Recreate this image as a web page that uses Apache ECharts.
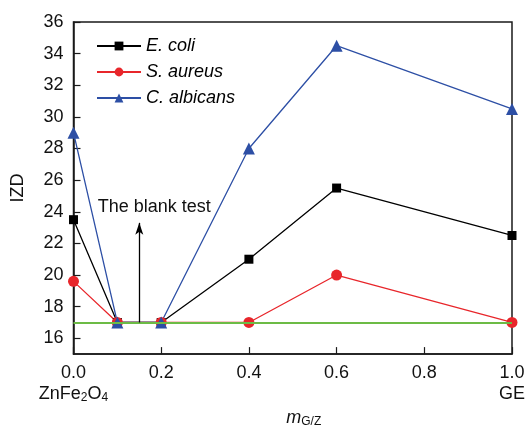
<!DOCTYPE html>
<html>
<head>
<meta charset="utf-8">
<style>
  html, body { margin: 0; padding: 0; background: #fff; }
  #main { width: 528px; height: 433px; }
</style>
</head>
<body>
<div id="main"></div>
<script src="https://cdn.jsdelivr.net/npm/echarts@6/dist/echarts.min.js"></script>
<script>
// x: mass ratio G/Z, y: inhibition zone diameter
var ratios = [0, 0.1, 0.2, 0.4, 0.6, 1.0]
var eColi = [23.5, 17, 17, 21, 25.5, 22.5]
var sAureus = [19.6, 17, 17, 17, 20, 17]
var cAlbicans = [29, 17, 17, 28, 34.5, 30.5]
var seriesNames = ['E. coli', 'S. aureus', 'C. albicans']
var yTicks = [16, 18, 20, 22, 24, 26, 28, 30, 32, 34, 36]
var xTicks = [0, 0.2, 0.4, 0.6, 0.8, 1.0]
var blankLevel = 17
var blankArrowX = 0.15
var blankArrowTop = 23.3
var blankText = 'The blank test'

var font = 'Liberation Sans, Arial, sans-serif'

function pairs(ys) {
  return ratios.map(function (x, i) { return [x, ys[i]] })
}

var chart = echarts.init(document.getElementById('main'))

var option = {
  backgroundColor: '#fff',
  animation: false,
  textStyle: { fontFamily: font },
  grid: {
    left: 73.5, right: 15, top: 22, bottom: 50,
    show: true, borderColor: '#1a1a1a', borderWidth: 1.5
  },
  legend: {
    data: seriesNames,
    orient: 'vertical',
    left: 91,
    top: 32,
    itemWidth: 44,
    itemHeight: 11,
    itemGap: 8,
    textStyle: { fontFamily: font, fontSize: 18, fontStyle: 'italic', color: '#000', lineHeight: 18 }
  },
  xAxis: {
    type: 'value',
    min: 0,
    max: 1,
    interval: 0.2,
    axisLine: { lineStyle: { color: '#1a1a1a', width: 1.5 } },
    axisTick: { inside: true, length: 7, lineStyle: { color: '#1a1a1a', width: 1.2 } },
    splitLine: { show: false },
    axisLabel: {
      margin: 8,
      color: '#111',
      fontSize: 18,
      fontFamily: font,
      showMinLabel: true,
      showMaxLabel: true,
      lineHeight: 21,
      formatter: function (v) {
        var s = v.toFixed(1)
        if (v === xTicks[0]) return s + '\n{c|ZnFe}{sub|2}{c|O}{sub|4}'
        if (v === xTicks[xTicks.length - 1]) return s + '\n{c|GE}'
        return s
      },
      rich: {
        c: { fontSize: 18, fontFamily: font, color: '#111', lineHeight: 21 },
        sub: { fontSize: 12, fontFamily: font, color: '#111', lineHeight: 21, verticalAlign: 'bottom', padding: [8, 0, 0, 0] }
      }
    },
    name: '{m|m}{sub|G/Z}',
    nameLocation: 'middle',
    nameGap: 33,
    nameTextStyle: {
      padding: [0, 0, 0, 22],
      rich: {
        m: { fontSize: 18, fontStyle: 'italic', fontFamily: font, color: '#111' },
        sub: { fontSize: 12, fontFamily: font, color: '#111', verticalAlign: 'bottom', padding: [8, 0, 0, 0] }
      }
    }
  },
  yAxis: {
    type: 'value',
    min: 15,
    max: 36,
    axisLine: { show: true, lineStyle: { color: '#1a1a1a', width: 1.5 } },
    axisTick: { inside: true, length: 7, customValues: yTicks, lineStyle: { color: '#1a1a1a', width: 1.2 } },
    splitLine: { show: false },
    axisLabel: { customValues: yTicks, margin: 10, color: '#111', fontSize: 18, fontFamily: font },
    name: 'IZD',
    nameLocation: 'middle',
    nameGap: 46,
    nameTextStyle: { fontSize: 18, fontFamily: font, color: '#111' }
  },
  series: [
    {
      name: seriesNames[0], type: 'line', data: pairs(eColi),
      symbol: 'rect', symbolSize: 9,
      itemStyle: { color: '#000' }, lineStyle: { color: '#000', width: 1.3 }
    },
    {
      name: seriesNames[1], type: 'line', data: pairs(sAureus),
      symbol: 'circle', symbolSize: 11,
      itemStyle: { color: '#e8262b' }, lineStyle: { color: '#e8262b', width: 1.3 }
    },
    {
      name: seriesNames[2], type: 'line', data: pairs(cAlbicans),
      symbol: 'triangle', symbolSize: 12,
      itemStyle: { color: '#2d4fa5' }, lineStyle: { color: '#2d4fa5', width: 1.3 }
    },
    {
      name: 'blank', type: 'line', data: [],
      markLine: {
        silent: true,
        animation: false,
        label: { show: false },
        data: [
          [
            { coord: [0, blankLevel], symbol: 'none', lineStyle: { color: '#6cbb45', width: 2, type: 'solid' } },
            { coord: [1, blankLevel], symbol: 'none' }
          ],
          [
            { coord: [blankArrowX, blankLevel], symbol: 'none', lineStyle: { color: '#000', width: 1.3, type: 'solid' } },
            { coord: [blankArrowX, blankArrowTop], symbol: 'arrow', symbolSize: [6, 12] }
          ]
        ]
      },
      markPoint: {
        silent: true,
        data: [{
          coord: [blankArrowX, blankArrowTop],
          symbol: 'circle', symbolSize: 1,
          itemStyle: { color: 'rgba(0,0,0,0)' },
          label: {
            show: true, formatter: blankText, position: 'top', distance: 6,
            offset: [15, 0], fontSize: 18, fontFamily: font, color: '#111'
          }
        }]
      }
    }
  ]
}

chart.setOption(option)
</script>
</body>
</html>
